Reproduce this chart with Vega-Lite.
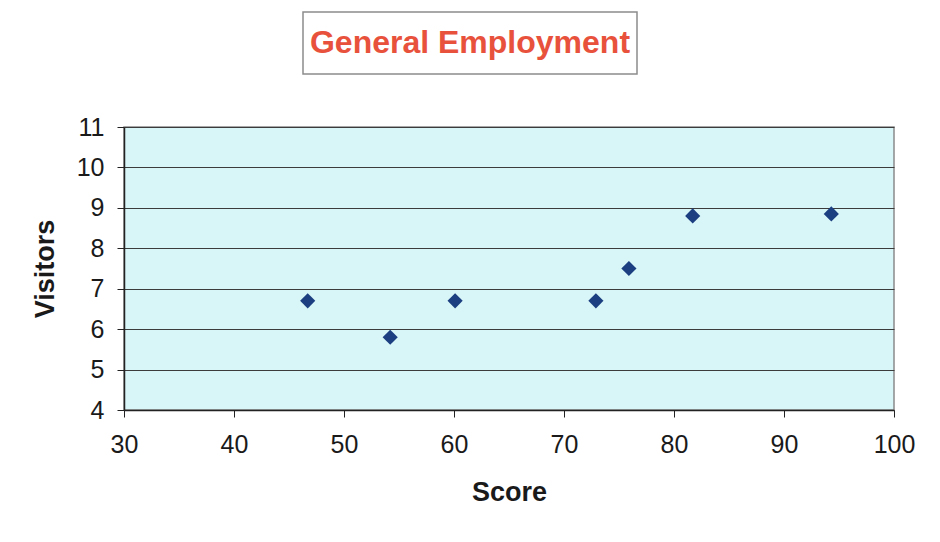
{
  "$schema": "https://vega.github.io/schema/vega-lite/v6.json",
  "background": "white",
  "padding": {"left": 30, "top": 11, "right": 10, "bottom": 10},
  "spacing": 39,
  "center": false,
  "config": {
    "font": "Liberation Sans",
    "axis": {
      "labelFont": "Liberation Sans",
      "titleFont": "Liberation Sans",
      "labelColor": "#1a1a1a",
      "titleColor": "#1a1a1a"
    }
  },
  "vconcat": [
    {
      "spacing": 8,
      "hconcat": [
        {
          "width": 170,
          "height": 62,
          "view": {"stroke": null, "fill": null},
          "data": {"values": []},
          "mark": "point"
        },
        {
          "width": 334,
          "height": 62,
          "view": {"fill": "white", "stroke": "#8c8c8c", "strokeWidth": 1.5},
          "data": {"values": [{"heading": "General Employment"}]},
          "mark": {
            "type": "text",
            "font": "Liberation Sans",
            "fontSize": 32,
            "fontWeight": "bold",
            "color": "#e8523c",
            "align": "center",
            "baseline": "middle"
          },
          "encoding": {"text": {"field": "heading", "type": "nominal"}}
        }
      ]
    },
    {
      "width": 770,
      "height": 283,
      "view": {"fill": "#d8f6f8", "stroke": "#8a8a8a", "strokeWidth": 1.5},
      "data": {
        "values": [
          {"score": 46.7, "visitors": 6.7},
          {"score": 54.2, "visitors": 5.8},
          {"score": 60.1, "visitors": 6.7},
          {"score": 72.9, "visitors": 6.7},
          {"score": 75.9, "visitors": 7.5},
          {"score": 81.7, "visitors": 8.8},
          {"score": 94.3, "visitors": 8.85}
        ]
      },
      "mark": {
        "type": "point",
        "shape": "diamond",
        "filled": true,
        "size": 230,
        "color": "#1b3f80",
        "opacity": 1
      },
      "encoding": {
        "x": {
          "field": "score",
          "type": "quantitative",
          "scale": {"domain": [30, 100], "nice": false, "zero": false},
          "axis": {
            "title": "Score",
            "values": [30, 40, 50, 60, 70, 80, 90, 100],
            "grid": false,
            "labelFlush": false,
            "labelOverlap": false,
            "domainColor": "#222222",
            "domainWidth": 1.5,
            "tickColor": "#222222",
            "tickSize": 7,
            "labelFontSize": 25,
            "labelPadding": 15,
            "titleFontSize": 27,
            "titleFontWeight": "bold",
            "titlePadding": 22
          }
        },
        "y": {
          "field": "visitors",
          "type": "quantitative",
          "scale": {"domain": [4, 11], "nice": false, "zero": false},
          "axis": {
            "title": "Visitors",
            "values": [4, 5, 6, 7, 8, 9, 10, 11],
            "grid": true,
            "labelFlush": false,
            "labelOverlap": false,
            "gridColor": "#3c3c3c",
            "gridWidth": 1,
            "domainColor": "#222222",
            "domainWidth": 1.5,
            "tickColor": "#222222",
            "tickSize": 7,
            "labelFontSize": 25,
            "labelPadding": 13,
            "titleFontSize": 27,
            "titleFontWeight": "bold",
            "titlePadding": 17
          }
        }
      }
    }
  ]
}
